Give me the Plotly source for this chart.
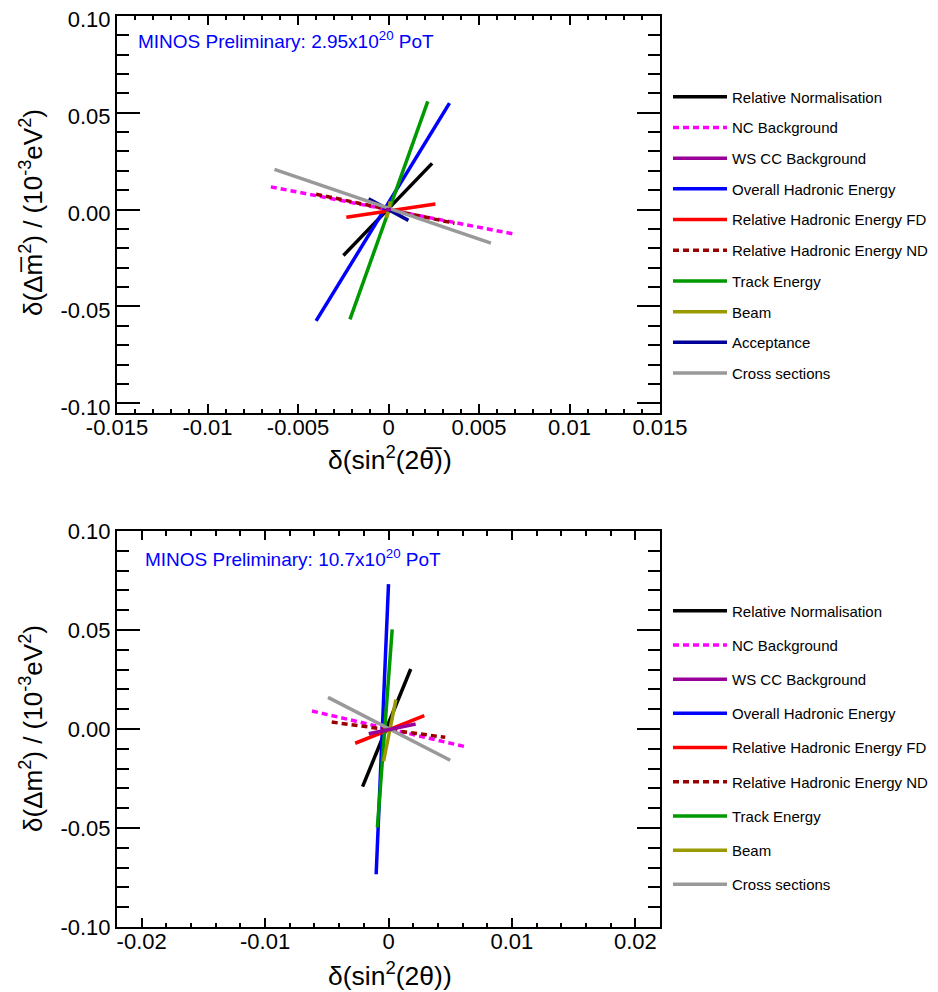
import plotly.graph_objects as go

# ---------------- data ----------------
names_top = ["Relative Normalisation", "NC Background", "WS CC Background",
             "Overall Hadronic Energy", "Relative Hadronic Energy FD",
             "Relative Hadronic Energy ND", "Track Energy", "Beam",
             "Acceptance", "Cross sections"]
x_start_top = [-0.00249, -0.0065, -0.00014, -0.0040, -0.00233, -0.0040, -0.00213, 0.0001, -0.0011, -0.0063]
y_start_top = [-0.0237, 0.0117, -0.0002, -0.0575, -0.0040, 0.0079, -0.0567, 0.0042, 0.0056, 0.0207]
x_end_top = [0.00241, 0.0069, 0.00014, 0.00337, 0.00259, 0.00365, 0.00217, -0.0001, 0.0011, 0.00566]
y_end_top = [0.0238, -0.0126, 0.0002, 0.0549, 0.0029, -0.0071, 0.0558, -0.0043, -0.0056, -0.0173]

names_bot = ["Relative Normalisation", "NC Background", "WS CC Background",
             "Overall Hadronic Energy", "Relative Hadronic Energy FD",
             "Relative Hadronic Energy ND", "Track Energy", "Beam",
             "Cross sections"]
x_start_bot = [-0.0021, -0.0062, -0.0016, -0.0010, -0.0027, -0.0046, -0.0009, -0.0004, -0.0049]
y_start_bot = [-0.0291, 0.0091, -0.0024, -0.0734, -0.0072, 0.0035, -0.0497, -0.0163, 0.0160]
x_end_bot = [0.0018, 0.0062, 0.0022, 0.0000, 0.0029, 0.0046, 0.0003, 0.0006, 0.0050]
y_end_bot = [0.0303, -0.0089, 0.0025, 0.0732, 0.0067, -0.0042, 0.0503, 0.0148, -0.0158]

x_ticks_top = [-0.015, -0.01, -0.005, 0, 0.005, 0.01, 0.015]
x_ticktext_top = ["-0.015", "-0.01", "-0.005", "0", "0.005", "0.01", "0.015"]
x_ticks_bot = [-0.02, -0.01, 0, 0.01, 0.02]
x_ticktext_bot = ["-0.02", "-0.01", "0", "0.01", "0.02"]
y_ticks = [-0.1, -0.05, 0, 0.05, 0.1]
y_ticktext = ["-0.10", "-0.05", "0.00", "0.05", "0.10"]

# ---------------- styles ----------------
style = {
    "Relative Normalisation": ("#000000", "solid"),
    "NC Background": ("#ff00ff", "6px,4px"),
    "WS CC Background": ("#990099", "solid"),
    "Overall Hadronic Energy": ("#0000ff", "solid"),
    "Relative Hadronic Energy FD": ("#ff0000", "solid"),
    "Relative Hadronic Energy ND": ("#990000", "6px,4px"),
    "Track Energy": ("#009900", "solid"),
    "Beam": ("#999900", "solid"),
    "Acceptance": ("#000099", "solid"),
    "Cross sections": ("#999999", "solid"),
}
FONT = "Liberation Sans, Arial, Helvetica, sans-serif"
OFF = 8                      # page body margin
W, H = 938 - OFF, 992 - OFF  # figure size so that the page is 938x992

fig = go.Figure()


def add_panel(names, xs, ys, xe, ye, xa, ya, legend):
    order = [n for n in names if n != "WS CC Background"] + ["WS CC Background"]
    for n in order:
        i = names.index(n)
        col, dash = style[n]
        fig.add_trace(go.Scatter(
            x=[xs[i], xe[i]], y=[ys[i], ye[i]], mode="lines", name=n,
            line=dict(color=col, width=3.5, dash=dash),
            xaxis=xa, yaxis=ya, legend=legend, legendgroup=legend + n,
            legendrank=i + 1, hoverinfo="skip"))


add_panel(names_top, x_start_top, y_start_top, x_end_top, y_end_top, "x", "y", "legend")
add_panel(names_bot, x_start_bot, y_start_bot, x_end_bot, y_end_bot, "x2", "y2", "legend2")

# page pixel -> paper fraction
px = lambda v: (v - OFF) / W
py = lambda v: 1 - (v - OFF) / H

x_dom = [px(117), px(660)]
top_dom = [py(413), py(15.7)]
bot_dom = [py(927), py(531)]


def xaxis(dom_anchor, rng, tv, tt, minor_dt):
    return dict(domain=x_dom, anchor=dom_anchor, range=rng, tickmode="array",
                tickvals=tv, ticktext=tt, ticks="inside", ticklen=9, tickwidth=2,
                tickcolor="black", mirror="allticks", showline=True, linewidth=2,
                linecolor="black", showgrid=False, zeroline=False, automargin=False,
                ticklabelstandoff=-6, ticklabeloverflow="allow",
                tickfont=dict(family=FONT, size=22, color="black"),
                minor=dict(dtick=minor_dt, tick0=0, ticks="inside", ticklen=4.5,
                           tickwidth=1.5, tickcolor="black", showgrid=False))


def yaxis(dom, anchor, rng, shift):
    return dict(domain=dom, anchor=anchor, range=rng, tickmode="array",
                tickvals=y_ticks, ticktext=y_ticktext, ticks="inside", ticklen=23,
                tickwidth=2, tickcolor="black", mirror="allticks", showline=True,
                linewidth=2, linecolor="black", showgrid=False, zeroline=False,
                automargin=False, ticklabelstandoff=0, ticklabeloverflow="allow",
                ticklabelshift=shift,
                tickfont=dict(family=FONT, size=22, color="black"),
                minor=dict(dtick=0.01, tick0=0, ticks="inside", ticklen=12,
                           tickwidth=1.5, tickcolor="black", showgrid=False))


leg_common = dict(font=dict(family=FONT, size=15, color="black"), bgcolor="rgba(0,0,0,0)",
                  borderwidth=0, xanchor="left", yanchor="top", itemclick=False,
                  itemwidth=54)

fig.update_layout(
    width=W, height=H, margin=dict(l=0, r=0, t=0, b=0, pad=0, autoexpand=False),
    paper_bgcolor="white", plot_bgcolor="white", showlegend=True,
    xaxis=xaxis("y", [-0.015, 0.015], x_ticks_top, x_ticktext_top, 0.001),
    yaxis=yaxis(top_dom, "x", [-0.105, 0.10002], 4),
    xaxis2=xaxis("y2", [-0.022, 0.022], x_ticks_bot, x_ticktext_bot, 0.002),
    yaxis2=yaxis(bot_dom, "x2", [-0.10002, 0.10002], 0),
    legend=dict(x=px(668), y=py(80.5), tracegroupgap=8.2, **leg_common),
    legend2=dict(x=px(668), y=py(594.5), tracegroupgap=11.7, **leg_common),
)

ann = [
    dict(text="MINOS Preliminary: 2.95x10<sup>20</sup> PoT", x=px(136), y=py(40),
         xanchor="left", yanchor="middle", font=dict(family=FONT, size=19, color="#0000ff")),
    dict(text="MINOS Preliminary: 10.7x10<sup>20</sup> PoT", x=px(143), y=py(558),
         xanchor="left", yanchor="middle", font=dict(family=FONT, size=19, color="#0000ff")),
    dict(text="δ(sin<sup>2</sup>(2θ\u0305))", x=px(389.5), y=py(458),
         xanchor="center", yanchor="middle", font=dict(family=FONT, size=26.5, color="black")),
    dict(text="δ(sin<sup>2</sup>(2θ))", x=px(389.5), y=py(974),
         xanchor="center", yanchor="middle", font=dict(family=FONT, size=26.5, color="black")),
    dict(text="δ(Δm\u0305<sup>2</sup>) / (10<sup>-3</sup>eV<sup>2</sup>)", x=px(31), y=py(213),
         textangle=-90, xanchor="center", yanchor="middle",
         font=dict(family=FONT, size=26, color="black")),
    dict(text="δ(Δm<sup>2</sup>) / (10<sup>-3</sup>eV<sup>2</sup>)", x=px(31), y=py(729),
         textangle=-90, xanchor="center", yanchor="middle",
         font=dict(family=FONT, size=26, color="black")),
]
for a in ann:
    fig.add_annotation(xref="paper", yref="paper", showarrow=False, **a)

fig.write_html("out.html")
